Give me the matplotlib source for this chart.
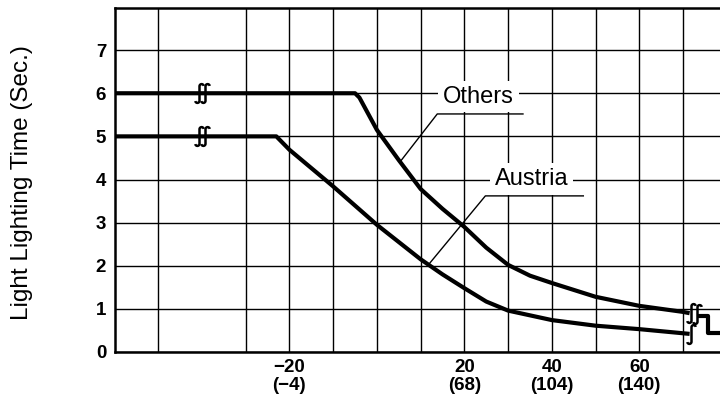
import numpy as np
import matplotlib
matplotlib.use("Agg")
import matplotlib.pyplot as plt
from matplotlib.path import Path
from matplotlib.markers import MarkerStyle

# Ambient temperature (deg C) vs. light lighting time (s)
others_temp = [-60, -5, -4, 0, 5, 10, 15, 20, 25, 30, 35, 40, 50, 60, 70, 71.5]
others_time = [6.0, 6.0, 5.9, 5.15, 4.45, 3.78, 3.32, 2.9, 2.42, 2.02, 1.77, 1.6,
               1.28, 1.07, 0.93, 0.9]
others_tail_temp = [73.3, 75.7, 75.7, 78.5]
others_tail_time = [0.84, 0.84, 0.44, 0.44]

austria_temp = [-60, -23, -20, -10, 0, 10, 15, 20, 25, 30, 40, 50, 60, 71.5]
austria_time = [5.0, 5.0, 4.69, 3.84, 2.95, 2.15, 1.8, 1.48, 1.17, 0.96, 0.74,
                0.61, 0.53, 0.42]

tick_temps_c = [-20, 20, 40, 60]
tick_temps_f = [-4, 68, 104, 140]
grid_temps = [-50, -30, -20, -10, 0, 10, 20, 30, 40, 50, 60, 70]
time_ticks = [0, 1, 2, 3, 4, 5, 6, 7]

FONT = "Liberation Sans"
plt.rcParams["font.family"] = [FONT, "DejaVu Sans"]


def minus(v):
    return str(v).replace("-", "\u2212")


def break_symbol():
    """Integral-like stroke: hook to the right on top, to the left at the bottom."""
    r = 0.16
    a_top = np.linspace(np.pi, np.pi * 0.05, 16)
    top = np.column_stack([r + r * np.cos(a_top), 0.55 + r * np.sin(a_top)])[::-1]
    a_bot = np.linspace(0, -np.pi * 0.95, 16)
    bot = np.column_stack([-r + r * np.cos(a_bot), -0.55 + r * np.sin(a_bot)])
    verts = np.vstack([top, bot])
    return MarkerStyle(Path(verts))


fig = plt.figure(figsize=(7.2, 3.99), dpi=100)
ax = fig.add_axes([114.5 / 720, 47 / 399, 605.5 / 720, 343.7 / 399])
ax.set_xlim(-60, 78.45)
ax.set_ylim(0, 7.97)

# grid
ax.set_xticks(grid_temps, minor=True)
ax.set_xticks(tick_temps_c)
ax.set_xticklabels([f"{minus(c)}\n({minus(f)})" for c, f in zip(tick_temps_c, tick_temps_f)],
                   fontsize=13.5, fontweight="bold", linespacing=1.1)
ax.set_yticks(time_ticks)
ax.set_yticklabels([str(v) for v in time_ticks], fontsize=13.5, fontweight="bold")
ax.tick_params(axis="both", which="both", length=0)
ax.tick_params(axis="x", pad=5)
ax.tick_params(axis="y", pad=6)
ax.grid(True, which="both", color="black", linewidth=1.0, zorder=1)
ax.set_axisbelow(True)

for side in ("left", "bottom", "top"):
    ax.spines[side].set_linewidth(1.8)
ax.spines["right"].set_visible(False)

curve_kw = dict(color="black", linewidth=3.0, solid_joinstyle="round",
                solid_capstyle="butt", zorder=4)
ax.plot(others_temp, others_time, **curve_kw)
ax.plot(others_tail_temp, others_tail_time, **curve_kw)
ax.plot(austria_temp, austria_time, **curve_kw)

# axis-break symbols
mark_kw = dict(marker=break_symbol(), markersize=13.5, markerfacecolor="none",
               markeredgecolor="black", markeredgewidth=1.8, linestyle="none", zorder=5)
ax.plot([-40.6, -39.4], [6.0, 6.0], **mark_kw)
ax.plot([-40.6, -39.4], [5.0, 5.0], **mark_kw)
ax.plot([71.9, 73.2], [0.9, 0.87], **mark_kw)
ax.plot([71.9], [0.42], **mark_kw)

# curve labels with leader lines
box = dict(facecolor="white", edgecolor="none", boxstyle="square,pad=0.2")
ax.text(23.2, 5.92, "Others", fontsize=17, ha="center", va="center", bbox=box, zorder=3)
ax.text(35.3, 4.01, "Austria", fontsize=17, ha="center", va="center", bbox=box, zorder=3)
lead_kw = dict(color="black", linewidth=1.0, zorder=3.5)
ax.plot([5.3, 13.8, 33.4], [4.41, 5.52, 5.52], **lead_kw)
ax.plot([12.0, 24.8, 47.2], [2.05, 3.62, 3.62], **lead_kw)

fig.text(22 / 720, 1 - 183 / 399, "Light Lighting Time (Sec.)", rotation=90,
         ha="center", va="center", fontsize=17.5)

fig.savefig("out.png", dpi=100, facecolor="white")
